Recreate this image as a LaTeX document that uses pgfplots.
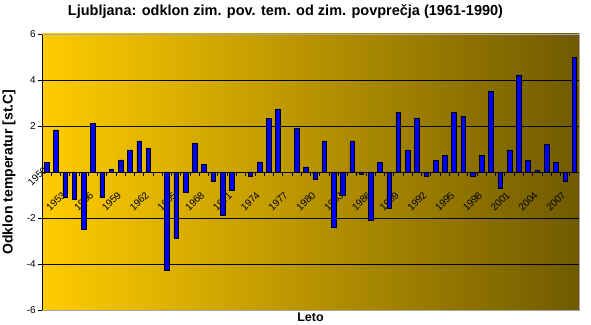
\documentclass[border=0pt]{standalone}
\usepackage{pgfplots}
\pgfplotsset{compat=1.18}
\usepackage{fontspec}
\setmainfont{Liberation Sans}
\definecolor{barblue}{RGB}{0,0,255}
\definecolor{bgleft}{RGB}{255,204,0}
\definecolor{bgright}{RGB}{112,90,0}
\begin{document}
\begin{tikzpicture}
\begin{axis}[
  scale only axis,
  width=537pt, height=276pt,
  xmin=1950.5, xmax=2008.5,
  ymin=-6, ymax=6,
  axis x line=middle,
  axis y line=left,
  x axis line style={-, black, line width=0.8pt},
  y axis line style={-, black, line width=0.8pt},
  axis background/.style={left color=bgleft, right color=bgright},
  ytick={-6,-4,-2,2,4,6},
  ymajorgrids, grid style={black, line width=0.8pt},
  ytick align=outside, major tick length=4pt,
  major y tick style={black, line width=0.8pt},
  /pgf/number format/assume math mode=true,
  yticklabel style={font=\fontsize{10}{12}\selectfont, inner sep=2pt},
  xtick={1953,1956,1959,1962,1965,1968,1971,1974,1977,1980,1983,1986,1989,1992,1995,1998,2001,2004,2007},
  xticklabels={\llap{1953},\llap{1956},\llap{1959},\llap{1962},\llap{1965},\llap{1968},\llap{1971},\llap{1974},\llap{1977},\llap{1980},\llap{1983},\llap{1986},\llap{1989},\llap{1992},\llap{1995},\llap{1998},\llap{2001},\llap{2004},\llap{2007}},
  major x tick style={draw=none},
  minor xtick={1950.5,1951.5,...,2008.5},
  minor x tick style={black, line width=0.8pt},
  minor tick length=4pt,
  xtick align=outside,
  xticklabel style={yshift=-15pt, xshift=-4pt, rotate=45, anchor=north, inner sep=0pt, font=\fontsize{10}{12}\selectfont},
  extra x ticks={1951},
  extra x tick labels={\llap{1950}},
  extra x tick style={tick label style={yshift=25pt}},
  xlabel={Leto},
  xlabel style={at={(rel axis cs:0.5,0)}, anchor=north, inner sep=3pt, font=\bfseries\fontsize{12.5}{14}\selectfont},
  ylabel={Odklon temperatur [st.C]},
  ylabel style={at={(rel axis cs:0,0.5)}, anchor=center, yshift=33pt, font=\bfseries\fontsize{14}{16}\selectfont},
  title={Ljubljana: odklon zim. pov. tem. od zim. povprečja (1961-1990)},
  title style={at={(rel axis cs:0.5,1)}, anchor=center, xshift=-25pt, yshift=16pt, font=\bfseries\fontsize{14.5}{16}\selectfont},
  clip=false,
]
\addplot[ybar, bar width=0.5, fill=barblue, draw=black, line width=0.6pt] coordinates {
(1951,0.43) (1952,1.83) (1953,-1.10) (1954,-1.17) (1955,-2.48) (1956,2.13)
(1957,-1.10) (1958,0.10) (1959,0.53) (1960,0.96) (1961,1.35) (1962,1.04)
(1964,-4.28) (1965,-2.87) (1966,-0.87) (1967,1.23) (1968,0.32)
(1969,-0.40) (1970,-1.88) (1971,-0.78) (1973,-0.18) (1974,0.44)
(1975,2.34) (1976,2.74) (1978,1.91) (1979,0.22) (1980,-0.32)
(1981,1.35) (1982,-2.40) (1983,-1.00) (1984,1.35) (1985,-0.10) (1986,-2.10)
(1987,0.43) (1988,-1.57) (1989,2.60) (1990,0.96) (1991,2.35) (1992,-0.19)
(1993,0.52) (1994,0.73) (1995,2.60) (1996,2.43) (1997,-0.19) (1998,0.73)
(1999,3.50) (2000,-0.70) (2001,0.96) (2002,4.20) (2003,0.52) (2004,0.09)
(2005,1.20) (2006,0.43) (2007,-0.40) (2008,4.99)
};
\draw[gray!70, line width=0.8pt] (rel axis cs:0,1) -- (rel axis cs:1,1) -- (rel axis cs:1,0) -- (rel axis cs:0,0);
\coordinate (bl) at (rel axis cs:0,0);
\coordinate (tr) at (rel axis cs:1,1);
\end{axis}
\pgfresetboundingbox
\path[use as bounding box] ([xshift=-42pt,yshift=-15pt]bl) rectangle ([xshift=12pt,yshift=34pt]tr);
\end{tikzpicture}
\end{document}
